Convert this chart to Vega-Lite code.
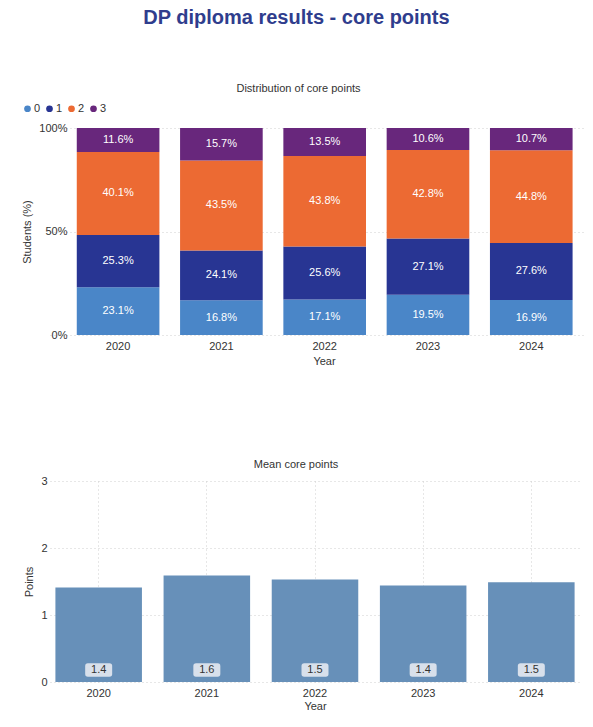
{
  "$schema": "https://vega.github.io/schema/vega-lite/v6.json",
  "padding": {"left": 21, "top": 8, "right": 8, "bottom": 5},
  "title": {"text": "DP diploma results - core points", "fontSize": 20, "font": "Liberation Sans", "fontWeight": "bold", "color": "#2f3d8d", "anchor": "middle", "offset": 55, "dx": -6},
  "config": {
    "font": "Liberation Sans",
    "view": {"stroke": null},
    "axis": {"labelFontSize": 11, "labelColor": "#333", "titleFontSize": 11, "titleFontWeight": "normal", "titleColor": "#333", "domain": false, "ticks": false, "grid": true, "gridDash": [1, 3], "gridColor": "#cfcfcf"},
    "title": {"font": "Liberation Sans"}
  },
  "spacing": 93,
  "vconcat": [
    {
      "width": 533,
      "height": 207,
      "title": {"text": "Distribution of core points", "fontSize": 11, "fontWeight": "normal", "color": "#333", "offset": 28, "anchor": "middle", "dx": -18},
      "data": {"values": [
        {"year": "2020", "cat": "0", "share": 0.231}, {"year": "2020", "cat": "1", "share": 0.253}, {"year": "2020", "cat": "2", "share": 0.401}, {"year": "2020", "cat": "3", "share": 0.116},
        {"year": "2021", "cat": "0", "share": 0.168}, {"year": "2021", "cat": "1", "share": 0.241}, {"year": "2021", "cat": "2", "share": 0.435}, {"year": "2021", "cat": "3", "share": 0.157},
        {"year": "2022", "cat": "0", "share": 0.171}, {"year": "2022", "cat": "1", "share": 0.256}, {"year": "2022", "cat": "2", "share": 0.438}, {"year": "2022", "cat": "3", "share": 0.135},
        {"year": "2023", "cat": "0", "share": 0.195}, {"year": "2023", "cat": "1", "share": 0.271}, {"year": "2023", "cat": "2", "share": 0.428}, {"year": "2023", "cat": "3", "share": 0.106},
        {"year": "2024", "cat": "0", "share": 0.169}, {"year": "2024", "cat": "1", "share": 0.276}, {"year": "2024", "cat": "2", "share": 0.448}, {"year": "2024", "cat": "3", "share": 0.107}
      ]},
      "encoding": {
        "x": {"field": "year", "type": "ordinal", "scale": {"paddingInner": 0.2, "paddingOuter": 0.18, "align": 0.72}, "axis": {"title": "Year", "labelAngle": 0, "labelPadding": 5, "titlePadding": 4, "bandPosition": 0.5, "titleX": 274}}
      },
      "layer": [
        {
          "mark": {"type": "bar"},
          "encoding": {
            "y": {"field": "share", "type": "quantitative", "stack": "normalize", "axis": {"title": "Students (%)", "format": ".0%", "values": [0, 0.5, 1], "labelPadding": 1, "titlePadding": 6, "offset": -18}},
            "color": {"field": "cat", "type": "nominal", "scale": {"domain": ["0", "1", "2", "3"], "range": ["#4a86c8", "#283593", "#ec6a33", "#68277c"]},
              "legend": {"title": null, "orient": "none", "direction": "horizontal", "legendX": -28, "legendY": -25, "symbolType": "circle", "symbolSize": 45, "symbolOpacity": 1, "labelFontSize": 11, "labelColor": "#333", "columnPadding": 3, "labelOffset": 1}},
            "order": {"field": "cat"}
          }
        },
        {
          "mark": {"type": "text", "color": "white", "fontSize": 11, "baseline": "middle"},
          "encoding": {
            "y": {"field": "share", "type": "quantitative", "stack": "normalize", "bandPosition": 0.5},
            "detail": {"field": "cat"},
            "order": {"field": "cat"},
            "text": {"field": "share", "type": "quantitative", "format": ".1%"}
          }
        }
      ]
    },
    {
      "width": 530,
      "height": 201,
      "title": {"text": "Mean core points", "fontSize": 11, "fontWeight": "normal", "color": "#333", "offset": 5, "anchor": "middle", "dx": -19},
      "data": {"values": [
        {"year": "2020", "mean": 1.41},
        {"year": "2021", "mean": 1.59},
        {"year": "2022", "mean": 1.53},
        {"year": "2023", "mean": 1.44},
        {"year": "2024", "mean": 1.49}
      ]},
      "encoding": {
        "x": {"field": "year", "type": "ordinal", "scale": {"paddingInner": 0.2, "paddingOuter": 0.05}, "axis": {"title": "Year", "labelAngle": 0, "labelPadding": 5, "titlePadding": 2, "bandPosition": 0.5}}
      },
      "layer": [
        {
          "mark": {"type": "bar", "color": "#6790b9"},
          "encoding": {
            "y": {"field": "mean", "type": "quantitative", "scale": {"domain": [0, 3]}, "axis": {"title": "Points", "values": [0, 1, 2, 3], "format": "d", "labelPadding": 3, "titlePadding": 6}}
          }
        },
        {
          "mark": {"type": "point", "filled": true, "color": "#d8e0eb", "opacity": 1, "size": 729, "yOffset": -12, "shape": "M-0.8,-0.5H0.8Q1,-0.5 1,-0.3V0.3Q1,0.5 0.8,0.5H-0.8Q-1,0.5 -1,0.3V-0.3Q-1,-0.5 -0.8,-0.5Z"},
          "encoding": {
            "y": {"datum": 0, "type": "quantitative"}
          }
        },
        {
          "mark": {"type": "text", "color": "#333", "fontSize": 11, "baseline": "middle", "yOffset": -12},
          "encoding": {
            "y": {"datum": 0, "type": "quantitative"},
            "text": {"field": "mean", "type": "quantitative", "format": ".1f"}
          }
        }
      ]
    }
  ]
}
